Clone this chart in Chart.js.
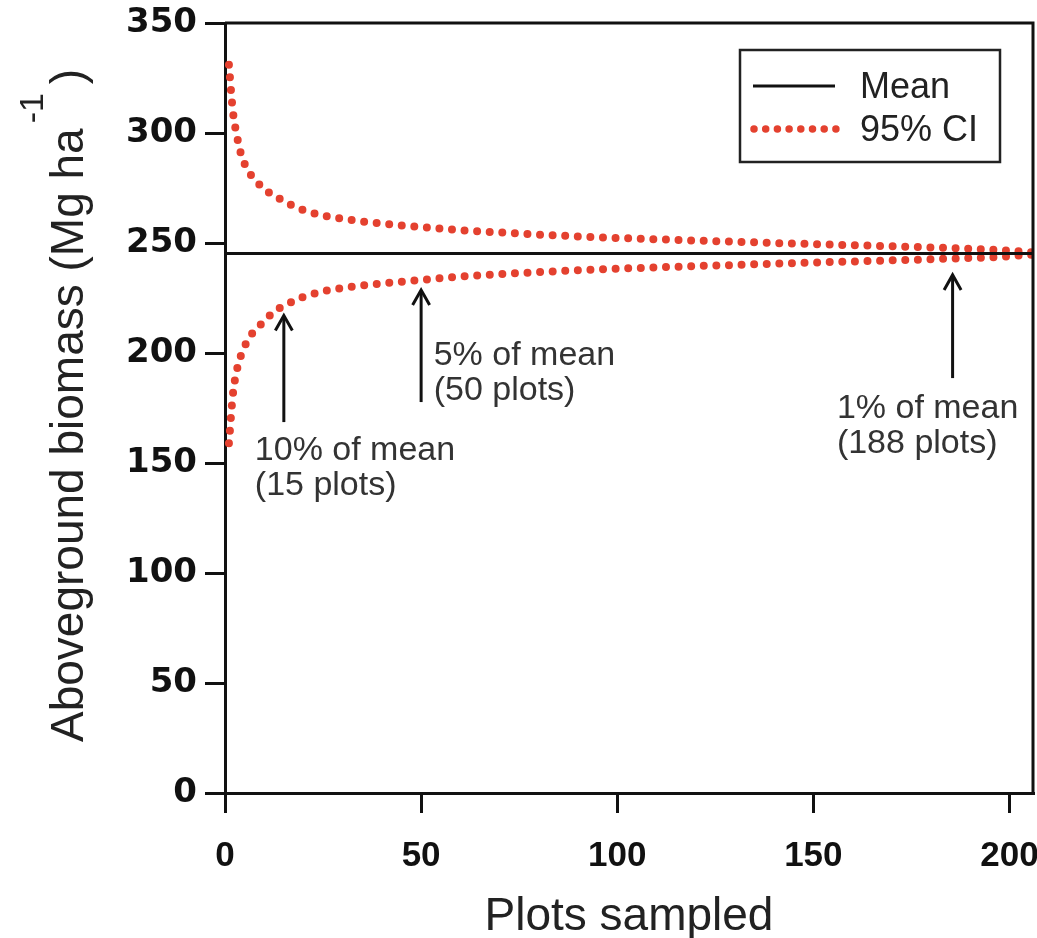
<!DOCTYPE html>
<html>
<head>
<meta charset="utf-8">
<script src="https://cdn.jsdelivr.net/npm/chart.js@4.4.1/dist/chart.umd.min.js"></script>
<style>
  html, body { margin: 0; padding: 0; background: #fff; }
  #wrap { width: 1037px; height: 938px; position: relative; }
</style>
</head>
<body>
<div id="wrap"><canvas id="biomass-chart"></canvas></div>
<script>
// plots sampled (x) and the values
const plotsSampled = [1, 2, 3, 4, 5, 6, 7, 8, 10, 12, 14, 16, 18, 20, 25, 30, 35, 40, 45, 50,
    60, 70, 80, 90, 100, 110, 120, 130, 140, 150, 160, 170, 180, 188, 195, 200, 206];
const upperCI = [331, 310, 299, 291, 286, 282.5, 280, 278, 274.5, 272, 270, 268, 266.5, 265, 262.5, 261, 259.8, 258.8, 258, 257.3,
    255.8, 254.8, 253.8, 253, 252.3, 251.7, 251.1, 250.6, 250, 249.5, 249, 248.5, 248, 247.5, 247, 246.5, 245.7];
const lowerCI = [159, 181, 192, 198.5, 203, 206.5, 209, 211, 214.5, 218, 220.5, 222.3, 224, 225.5, 228, 229.5, 230.7, 231.6, 232.4, 233.2,
    234.7, 235.8, 236.8, 237.6, 238.3, 238.9, 239.5, 240, 240.6, 241.1, 241.6, 242.1, 242.6, 243.1, 243.5, 244, 244.7];
const meanBiomass = 245.2;
const xRange = [0, 206];
const yRange = [0, 350];
const tickStep = 50;

const RED = '#e4412f';

const toPoints = (vals) => plotsSampled.map((n, i) => ({ x: n, y: vals[i] }));

// arrows + notes, positioned in data units
const notes = [
    { x: 15, tail: 168.6, tip: 217, lines: ['10% of mean', '(15 plots)'], tx: 7.6, ty: [151.2, 135.3] },
    { x: 50, tail: 177.7, tip: 228.6, lines: ['5% of mean', '(50 plots)'], tx: 53.2, ty: [194.6, 178.6] },
    { x: 185.5, tail: 188.6, tip: 235.5, lines: ['1% of mean', '(188 plots)'], tx: 156, ty: [170.4, 154.5] }
];

const decorPlugin = {
    id: 'decor',
    afterDraw(chart) {
        const { ctx, chartArea: a, scales: { x, y } } = chart;
        ctx.save();

        // box around plot
        ctx.strokeStyle = '#111';
        ctx.lineWidth = 3;
        ctx.beginPath();
        ctx.moveTo(a.left, a.top);
        ctx.lineTo(a.right, a.top);
        ctx.lineTo(a.right, a.bottom);
        ctx.stroke();

        // arrows
        notes.forEach(nt => {
            const px = x.getPixelForValue(nt.x);
            const y0 = y.getPixelForValue(nt.tail);
            const y1 = y.getPixelForValue(nt.tip);
            ctx.strokeStyle = '#111';
            ctx.lineWidth = 3;
            ctx.beginPath();
            ctx.moveTo(px, y0);
            ctx.lineTo(px, y1 + 1);
            ctx.stroke();
            ctx.beginPath();
            ctx.moveTo(px - 8.5, y1 + 15);
            ctx.lineTo(px, y1);
            ctx.lineTo(px + 8.5, y1 + 15);
            ctx.stroke();

            ctx.fillStyle = '#333';
            ctx.font = '34px "Liberation Sans", Arial, sans-serif';
            ctx.textAlign = 'left';
            ctx.textBaseline = 'alphabetic';
            nt.lines.forEach((t, i) => {
                ctx.fillText(t, x.getPixelForValue(nt.tx), y.getPixelForValue(nt.ty[i]));
            });
        });

        // legend
        const lx = 740, ly = 50, lw = 260, lh = 112;
        ctx.fillStyle = '#fff';
        ctx.fillRect(lx, ly, lw, lh);
        ctx.strokeStyle = '#222';
        ctx.lineWidth = 2.5;
        ctx.strokeRect(lx, ly, lw, lh);
        ctx.lineWidth = 3;
        ctx.strokeStyle = '#111';
        ctx.beginPath();
        ctx.moveTo(753, 86);
        ctx.lineTo(835, 86);
        ctx.stroke();
        ctx.strokeStyle = RED;
        ctx.lineWidth = 7.5;
        ctx.lineCap = 'round';
        ctx.setLineDash([0, 11.7]);
        ctx.beginPath();
        ctx.moveTo(754, 129);
        ctx.lineTo(836, 129);
        ctx.stroke();
        ctx.setLineDash([]);
        ctx.lineCap = 'butt';
        ctx.fillStyle = '#222';
        ctx.font = '36px "Liberation Sans", Arial, sans-serif';
        ctx.fillText('Mean', 860, 98);
        ctx.fillText('95% CI', 860, 141);

        // axis titles
        ctx.fillStyle = '#222';
        ctx.font = '46px "Liberation Sans", Arial, sans-serif';
        ctx.textAlign = 'center';
        ctx.fillText('Plots sampled', (a.left + a.right) / 2, 930);

        ctx.save();
        ctx.translate(83, 742);
        ctx.rotate(-Math.PI / 2);
        ctx.textAlign = 'left';
        const main = 'Aboveground biomass (Mg ha';
        ctx.fillText(main, 0, 0);
        let w = ctx.measureText(main).width;
        ctx.font = '34px "Liberation Sans", Arial, sans-serif';
        ctx.fillText('-1', w + 5, -40);
        w += 5 + ctx.measureText('-1').width;
        ctx.font = '46px "Liberation Sans", Arial, sans-serif';
        ctx.fillText(' )', w - 4, 0);
        ctx.restore();

        ctx.restore();
    }
};

const ciStyle = {
    borderColor: RED,
    borderWidth: 8,
    borderDash: [0, 12.6],
    borderCapStyle: 'round',
    cubicInterpolationMode: 'monotone',
    pointRadius: 0
};

new Chart(document.getElementById('biomass-chart'), {
    type: 'line',
    data: {
        datasets: [
            {
                label: 'Mean',
                data: [{ x: xRange[0], y: meanBiomass }, { x: xRange[1], y: meanBiomass }],
                borderColor: '#111',
                borderWidth: 3,
                pointRadius: 0
            },
            { label: '95% CI', data: toPoints(upperCI), ...ciStyle },
            { label: '95% CI lower', data: toPoints(lowerCI), ...ciStyle }
        ]
    },
    options: {
        responsive: true,
        maintainAspectRatio: false,
        animation: false,
        devicePixelRatio: 1,
        layout: { padding: { left: 0, top: 23, right: 4, bottom: 0 } },
        plugins: {
            legend: { display: false },
            tooltip: { enabled: false }
        },
        scales: {
            x: {
                type: 'linear',
                min: xRange[0],
                max: xRange[1],
                ticks: {
                    stepSize: tickStep,
                    includeBounds: false,
                    padding: 22,
                    color: '#111',
                    maxRotation: 0,
                    font: { family: '"Liberation Sans Narrow", "Liberation Sans", Arial', size: 35, weight: 'bold' }
                },
                grid: { drawOnChartArea: false, tickLength: 20, lineWidth: 3, tickWidth: 3, tickColor: '#111' },
                border: { display: true, color: '#111', width: 3 },
                afterFit(s) { s.height = 145; s.paddingLeft = 0; s.paddingRight = 0; }
            },
            y: {
                min: yRange[0],
                max: yRange[1],
                ticks: {
                    stepSize: tickStep,
                    padding: 8,
                    color: '#111',
                    font: { family: '"DejaVu Sans", sans-serif', size: 34, weight: 'bold' }
                },
                grid: { drawOnChartArea: false, tickLength: 20, lineWidth: 3, tickWidth: 3, tickColor: '#111' },
                border: { display: true, color: '#111', width: 3 },
                afterFit(s) { s.width = 225; s.paddingTop = 0; s.paddingBottom = 0; }
            }
        }
    },
    plugins: [decorPlugin]
});
</script>
</body>
</html>
